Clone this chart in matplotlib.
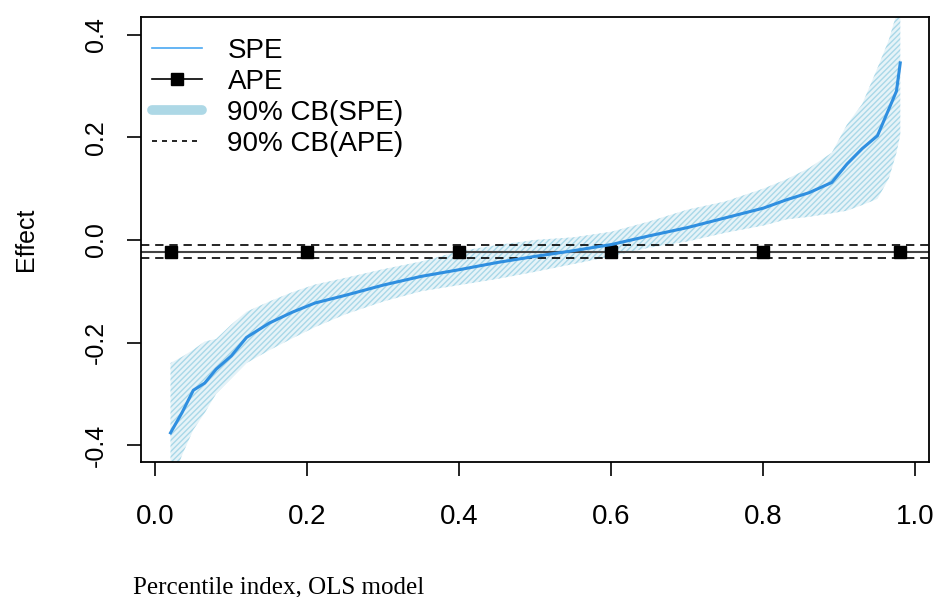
import matplotlib
matplotlib.use("Agg")
import matplotlib.pyplot as plt
from matplotlib.lines import Line2D

# percentile grid and SPE estimates
pct = [0.02, 0.035, 0.05, 0.065, 0.08, 0.10, 0.12, 0.15, 0.18, 0.21, 0.25,
       0.30, 0.35, 0.40, 0.45, 0.50, 0.55, 0.60, 0.65, 0.70, 0.75, 0.80,
       0.83, 0.86, 0.89, 0.91, 0.93, 0.95, 0.965, 0.975, 0.98]
spe = [-0.376, -0.337, -0.293, -0.279, -0.252, -0.226, -0.190, -0.162, -0.141,
       -0.123, -0.108, -0.088, -0.071, -0.058, -0.044, -0.032, -0.021, -0.009,
       0.008, 0.024, 0.043, 0.062, 0.078, 0.092, 0.112, 0.148, 0.178, 0.203,
       0.255, 0.290, 0.345]
spe_lo = [-0.480, -0.420, -0.370, -0.337, -0.300, -0.270, -0.240, -0.215, -0.192,
          -0.170, -0.145, -0.120, -0.100, -0.088, -0.076, -0.062, -0.047, -0.032,
          -0.015, -0.003, 0.014, 0.028, 0.040, 0.045, 0.052, 0.057, 0.068, 0.080,
          0.120, 0.170, 0.205]
spe_hi = [-0.240, -0.228, -0.214, -0.198, -0.193, -0.165, -0.140, -0.120, -0.102,
          -0.087, -0.074, -0.057, -0.042, -0.022, -0.010, 0.000, 0.005, 0.016,
          0.036, 0.059, 0.075, 0.100, 0.118, 0.140, 0.170, 0.225, 0.265, 0.335,
          0.390, 0.440, 0.450]

# average partial effect and its band
ape_pct = [0.02, 0.2, 0.4, 0.6, 0.8, 0.98]
ape = -0.0228
ape_lo = -0.0345
ape_hi = -0.0098

xticks = [0.0, 0.2, 0.4, 0.6, 0.8, 1.0]
yticks = [-0.4, -0.2, 0.0, 0.2, 0.4]

plt.rcParams['font.family'] = ['Liberation Sans', 'DejaVu Sans']

fig = plt.figure(figsize=(9.36, 5.97), dpi=100)
ax = fig.add_axes([0.151, 0.226, 0.842, 0.746])

# confidence band for SPE (hatched like R's polygon density)
ax.fill_between(pct, spe_lo, spe_hi, facecolor='#e6f3f8', edgecolor='#a9d8e8',
                hatch='//////', linewidth=0)

# APE line, markers and band
ax.axhline(ape, color='#444444', lw=1.5)
ax.axhline(ape_lo, color='black', lw=1.2, ls=(0, (5, 3.5)))
ax.axhline(ape_hi, color='black', lw=1.2, ls=(0, (5, 3.5)))
ax.plot(ape_pct, [ape] * len(ape_pct), ls='none', marker='s', ms=9, color='black')

# SPE curve
ax.plot(pct, spe, color='#2f8fe0', lw=2.2)

ax.set_xlim(-0.0184, 1.0184)
ax.set_ylim(-0.433, 0.435)
ax.set_xticks(xticks)
ax.set_xticklabels(['0.0', '0.2', '0.4', '0.6', '0.8', '1.0'], fontsize=20)
ax.set_yticks(yticks)
ax.set_yticklabels(['-0.4', '-0.2', '0.0', '0.2', '0.4'], rotation=90,
                   va='center', fontsize=18)
ax.tick_params(axis='both', direction='out', length=10, width=1.2, color='black')
ax.tick_params(axis='x', pad=20)
ax.tick_params(axis='y', pad=14)
for s in ax.spines.values():
    s.set_linewidth(1.3)
ax.set_ylabel('Effect', fontsize=18, labelpad=33)

handles = [
    Line2D([], [], color='#4aa8f2', lw=1.2),
    Line2D([], [], color='black', lw=1.2, marker='s', ms=9),
    Line2D([], [], color='#add8e6', lw=7, solid_capstyle='round'),
    Line2D([], [], color='black', lw=1.2, ls=(0, (3, 3))),
]
labels = ['SPE', 'APE', '90% CB(SPE)', '90% CB(APE)']
ax.legend(handles, labels, loc='upper left', frameon=False, fontsize=20,
          handlelength=1.8, handletextpad=0.9, labelspacing=0.18,
          borderaxespad=0.0, bbox_to_anchor=(0.0, 0.978))

fig.text(0.142, 0.0067, 'Percentile index, OLS model', fontsize=18,
         va='baseline', family=['Liberation Serif', 'DejaVu Serif'])

fig.savefig('out.png', dpi=100)
